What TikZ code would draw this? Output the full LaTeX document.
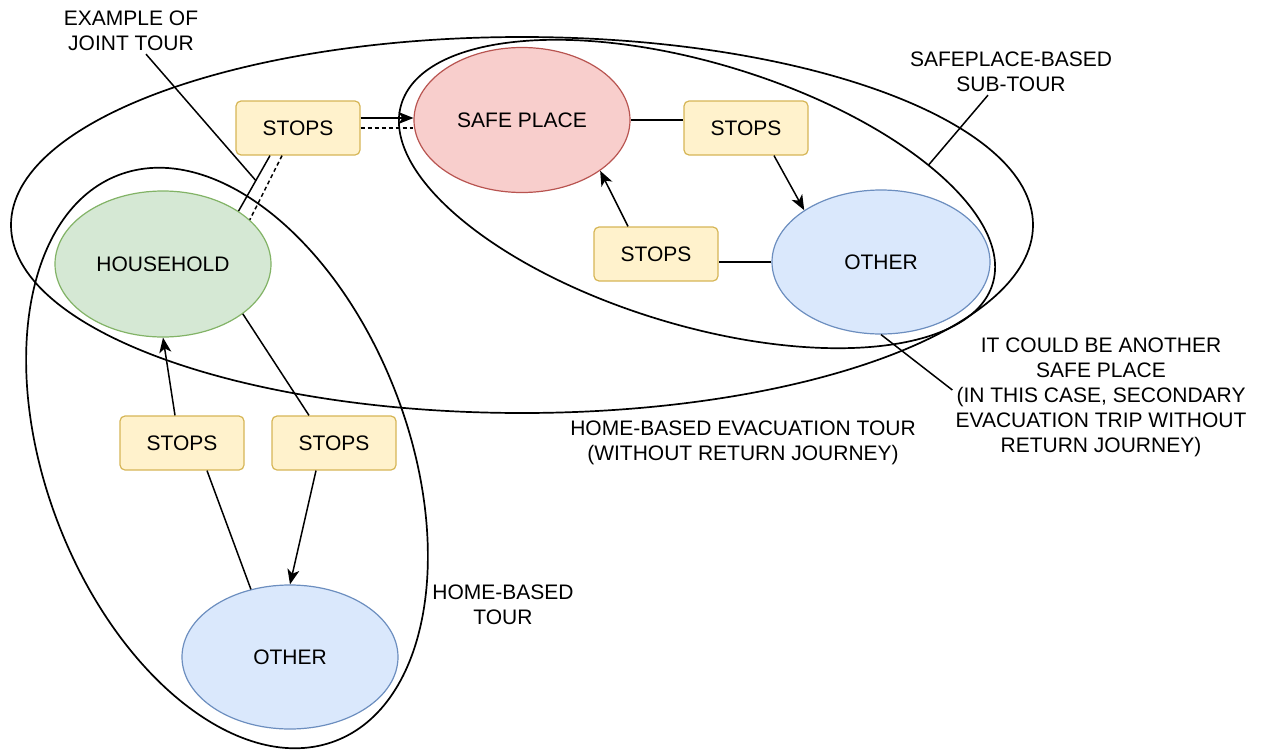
\documentclass[tikz,border=0pt]{standalone}
\usepackage{fontspec}
\setmainfont{Liberation Sans}
\usetikzlibrary{arrows.meta,shapes.geometric}
\definecolor{HomeFill}{HTML}{D5E8D4}
\definecolor{HomeLine}{HTML}{82B366}
\definecolor{SafeFill}{HTML}{F8CECC}
\definecolor{SafeLine}{HTML}{B85450}
\definecolor{OtherFill}{HTML}{DAE8FC}
\definecolor{OtherLine}{HTML}{6C8EBF}
\definecolor{StopFill}{HTML}{FFF2CC}
\definecolor{StopLine}{HTML}{D6B656}

\begin{document}
\begin{tikzpicture}[x=1pt,y=-1pt,
  every node/.style={font=\fontsize{21}{25}\selectfont,align=center},
  place/.style={ellipse,draw,line width=1.2pt,inner sep=0pt,
    minimum width=216pt,minimum height=146pt},
  homeplace/.style={place,draw=HomeLine,fill=HomeFill},
  safeplace/.style={place,draw=SafeLine,fill=SafeFill},
  otherplace/.style={place,draw=OtherLine,fill=OtherFill},
  stopbox/.style={rectangle,rounded corners=5pt,draw=StopLine,fill=StopFill,
    line width=1.2pt,minimum width=124pt,minimum height=54pt},
  tour/.style={ellipse,draw,line width=1.7pt,inner sep=0pt,outer sep=0pt},
  link/.style={line width=1.5pt},
  flow/.style={link,-{Stealth[length=15pt,width=12pt,inset=4pt]}},
  note/.style={inner sep=3pt}
]
\useasboundingbox (0,0) rectangle (1262,750);

% tours
\node[tour,minimum width=1022pt,minimum height=376pt] (evac) at (522,225) {};
\node[tour,minimum width=618pt,minimum height=262pt,rotate=-16.9] (subtour) at (697,194) {};
\node[tour,minimum width=606pt,minimum height=362pt,rotate=-69] (hometour) at (227,458) {};

% places and stops
\node[homeplace] (hh) at (163,264) {HOUSEHOLD};
\node[safeplace,minimum height=145pt] (safe) at (522,120) {SAFE PLACE};
\node[otherplace,minimum width=218pt,minimum height=144pt] (otherR) at (881,262) {OTHER};
\node[otherplace,minimum height=144pt] (otherB) at (290,657) {OTHER};
\node[stopbox] (s1) at (298,128) {STOPS};
\node[stopbox] (s2) at (746,128) {STOPS};
\node[stopbox] (s3) at (656,254) {STOPS};
\node[stopbox] (s4) at (182,443) {STOPS};
\node[stopbox] (s5) at (334,443) {STOPS};

% joint tour
\draw[link] ([xshift=-28pt]s1.south) -- coordinate[pos=0.45] (jointpt) (hh.35);
\draw[link,dash pattern=on 4pt off 3pt] ([xshift=-16pt]s1.south) -- (hh.27);
\draw[flow] ([yshift=10pt]s1.east) -- ([yshift=10pt]s1.east -| safe.west);
\draw[link,dash pattern=on 4pt off 3pt] (s1.east) -- (s1.east -| safe.west);

% safe place sub-tour
\draw[link] (safe.east) -- (safe.east -| s2.west);
\draw[flow] ([xshift=28pt]s2.south) -- (otherR.146);
\draw[link] (otherR.west) -- (otherR.west -| s3.east);
\draw[flow] ([xshift=-28pt]s3.north) -- (safe.-33);

% home-based tour
\draw[link] (hh.-32) -- ([xshift=-25pt]s5.north);
\draw[flow] ([xshift=-18pt]s5.south) -- (otherB.north);
\draw[link] (otherB.120) -- ([xshift=25pt]s4.south);
\draw[flow] ([xshift=-7pt]s4.north) -- (hh.south);

% notes
\node[note] (jointlbl) at (131,31) {EXAMPLE OF\\JOINT TOUR};
\node[note] (sublbl) at (1011,72) {SAFEPLACE-BASED\\SUB-TOUR};
\node[note] (anylbl) at (1101,397) {IT COULD BE ANOTHER\\SAFE PLACE\\(IN THIS CASE, SECONDARY\\EVACUATION TRIP WITHOUT\\RETURN JOURNEY)};
\node[note] (evaclbl) at (743,443) {HOME-BASED EVACUATION TOUR\\(WITHOUT RETURN JOURNEY)};
\node[note] (homelbl) at (503,605) {HOME-BASED\\TOUR};
\draw[link] ([xshift=15pt]jointlbl.south) -- (jointpt);
\draw[link] ([xshift=-23pt]sublbl.south) -- (subtour.24);
\draw[link] (otherR.south) -- ([yshift=7pt]anylbl.west);
\end{tikzpicture}
\end{document}
